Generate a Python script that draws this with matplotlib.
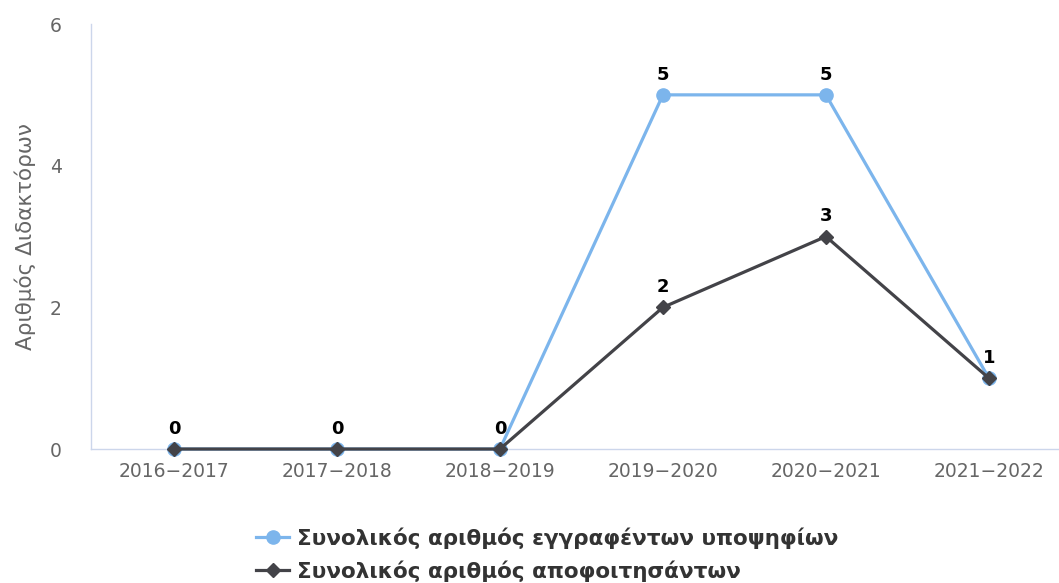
import matplotlib
matplotlib.use("Agg")
import matplotlib.pyplot as plt

plt.rcParams['font.family'] = ['DejaVu Sans']

categories = ["2016−2017", "2017−2018", "2018−2019", "2019−2020", "2020−2021", "2021−2022"]
enrolled = [0, 0, 0, 5, 5, 1]
graduated = [0, 0, 0, 2, 3, 1]
series_names = ["Συνολικός αριθμός εγγραφέντων υποψηφίων", "Συνολικός αριθμός αποφοιτησάντων"]
y_label = "Αριθμός Διδακτόρων"
y_ticks = [0, 2, 4, 6]

blue = "#7cb5ec"
dark = "#434348"

fig = plt.figure(figsize=(10.59, 5.83), dpi=100)
ax = fig.add_axes([0.0859, 0.2298, 0.9141, 0.729])

x = list(range(len(categories)))
ax.plot(x, enrolled, color=blue, lw=2.3, marker="o", ms=9.5, label=series_names[0], zorder=3, clip_on=False)
ax.plot(x, graduated, color=dark, lw=2.3, marker="D", ms=7, label=series_names[1], zorder=4, clip_on=False)

for i, (e, g) in enumerate(zip(enrolled, graduated)):
    if e != g:
        ax.annotate(str(e), (i, e), xytext=(0, 8), textcoords="offset points",
                    ha="center", va="bottom", fontsize=13, fontweight="bold", color="#000000", zorder=5)
    ax.annotate(str(g), (i, g), xytext=(0, 8), textcoords="offset points",
                ha="center", va="bottom", fontsize=13, fontweight="bold", color="#000000", zorder=5)

ax.set_xlim(-0.509, 5.43)
ax.set_ylim(0, 6)
ax.set_xticks(x)
ax.set_xticklabels(categories)
ax.set_yticks(y_ticks)
ax.tick_params(axis="both", length=0, labelsize=13.5, labelcolor="#666666")
ax.tick_params(axis="x", pad=9)
ax.tick_params(axis="y", pad=21)
for s in ["top", "right"]:
    ax.spines[s].set_visible(False)
ax.spines["left"].set_color("#ccd6eb")
ax.spines["bottom"].set_color("#ccd6eb")
ax.spines["left"].set_linewidth(1)
ax.spines["bottom"].set_linewidth(1)
ax.set_ylabel(y_label, fontsize=15.5, color="#666666", labelpad=10)

leg = fig.legend(loc="center", bbox_to_anchor=(0.517, 0.049), ncol=1, frameon=False,
                 prop={"size": 15.5, "weight": "bold"}, handlelength=1.5, labelspacing=0.52,
                 handletextpad=0.4, borderpad=0)
for t in leg.get_texts():
    t.set_color("#333333")

fig.savefig("out.png", dpi=100)
